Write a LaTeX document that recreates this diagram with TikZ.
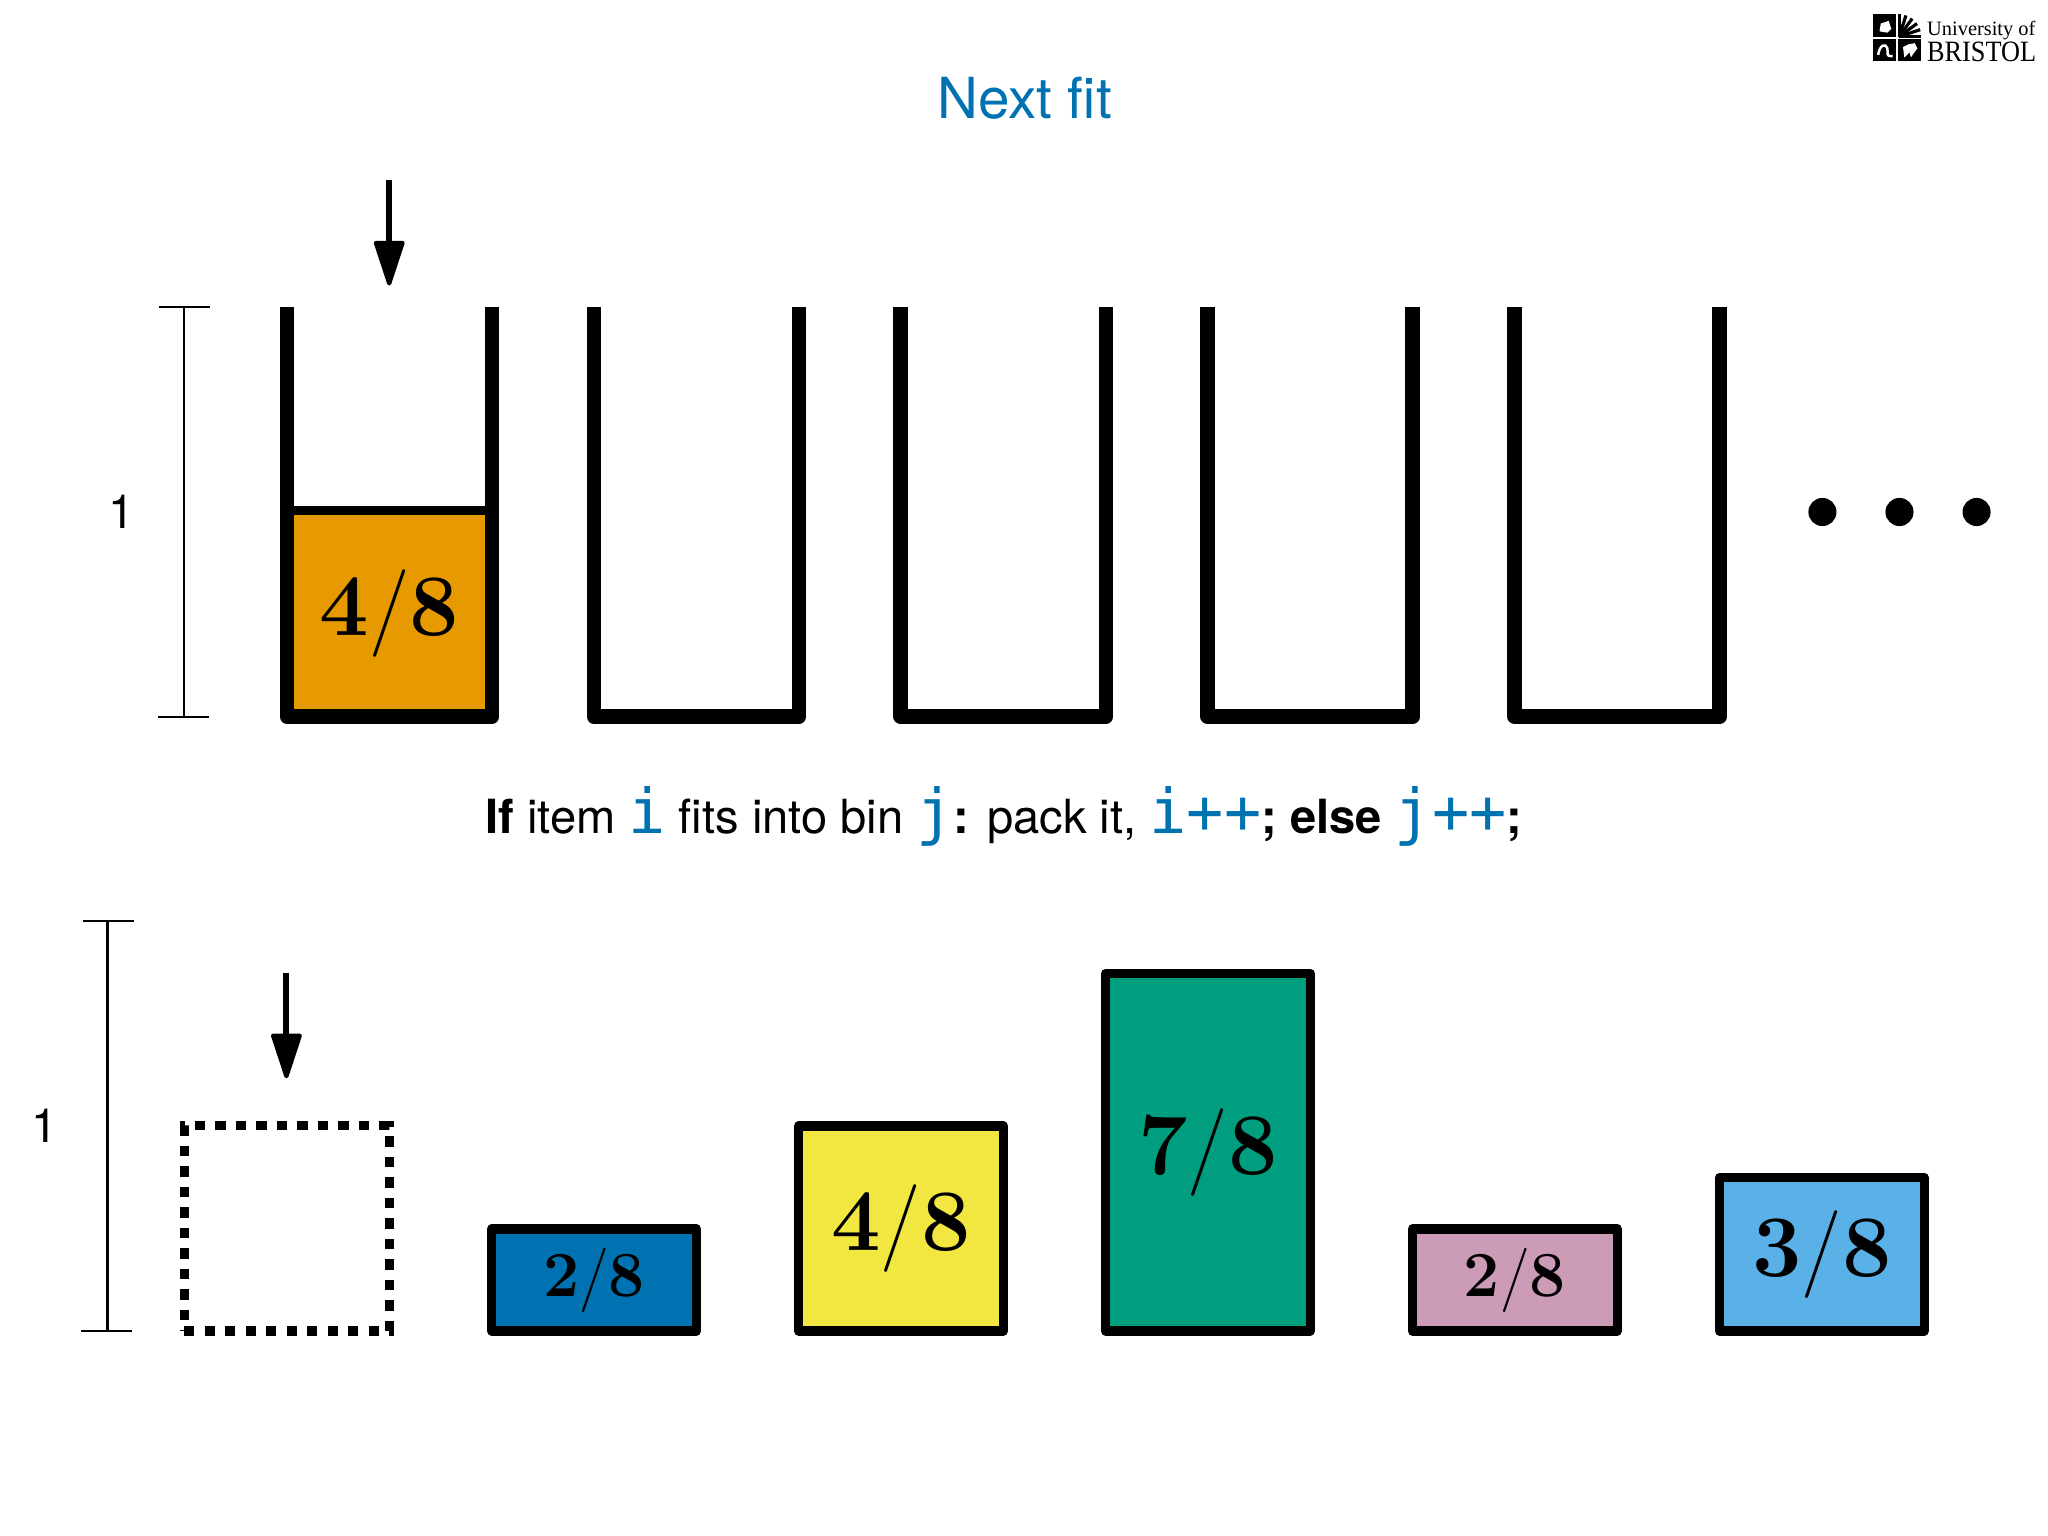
\documentclass[tikz,border=0pt]{standalone}
\usepackage{fontspec}
\newfontfamily\helv{TeX Gyre Heros}
\newfontfamily\tyi{DejaVu Sans Mono}
\newfontfamily\logofont{Liberation Serif}
\definecolor{nfblue}{HTML}{0072B2}
\definecolor{nforange}{HTML}{E69A00}
\definecolor{nfyellow}{HTML}{F2E640}
\definecolor{nfgreen}{HTML}{009D7E}
\definecolor{nfpink}{HTML}{CC9BB5}
\definecolor{nfsky}{HTML}{5AB1E8}
\newcommand{\fracbig}[1]{{\fontsize{25}{28}\selectfont\bfseries #1\textnormal{/}8}}
\newcommand{\fracsmall}[1]{{\fontsize{18.3}{20}\selectfont\bfseries #1\textnormal{/}8}}
\newcommand{\cv}[1]{{\tyi\fontsize{17.6}{20}\selectfont\textcolor{nfblue}{#1}}}
\tikzset{
  x=0.0130612cm, y=-0.0130612cm,
  binwall/.style={line width=4.2pt, line join=round},
  itembox/.style={draw=black, line width=2.6pt, line join=round, minimum width=58.3pt, inner sep=0pt, outer sep=0pt},
  ruler/.style={line width=0.65pt},
  pointer/.style={line width=1.7pt},
  pointerhead/.style={fill=black, draw=black, line width=1.2pt, line join=round},
  dotmark/.style={circle, fill=black, inner sep=0pt, minimum size=8pt},
  labelone/.style={font=\helv\fontsize{13.4}{16}\selectfont},
}
\newcommand{\binat}[1]{\draw[binwall] (#1,235) -- (#1,548.7) -- (#1+157,548.7) -- (#1+157,235);}
\newcommand{\arrowdown}[3]{%
  \coordinate (#1s) at (#2,#3);
  \coordinate (#1t) at (#2,#3+48);
  \draw[pointer] (#1s) -- (#1t);
  \fill[pointerhead] (#2-10.2,#3+48) -- (#2+10.2,#3+48) -- (#2,#3+79) -- cycle;}
\newcommand{\rulerat}[3]{%
  \coordinate (#1a) at (#2,#3);
  \coordinate (#1b) at (#2,#3+314);
  \draw[ruler] (#1a) -- (#1b);
  \draw[ruler] (#2-19,#3) -- (#2+20,#3);
  \draw[ruler] (#2-20,#3+314) -- (#2+19,#3+314);}
\begin{document}
\begin{tikzpicture}
\useasboundingbox (0,0) rectangle (1568,1176);
\node[font=\helv\fontsize{16.1}{18}\selectfont, text=nfblue] (title) at (784.5,75) {Next fit};
% bins
\node[itembox, fill=nforange, minimum height=58.3pt, anchor=south west] (i0) at (219.7,548) {\fracbig{4}};
\binat{219.7}\binat{454.7}\binat{689.7}\binat{924.7}\binat{1159.7}
\arrowdown{a}{298}{138}
\rulerat{ra}{141}{235}
\node[labelone] (one1) at (93,392) {1};
\node[dotmark] (d1) at (1395.3,392) {};
\node[dotmark] (d2) at (1454.3,392) {};
\node[dotmark] (d3) at (1513.3,392) {};
% rule text
\node[font=\helv\fontsize{13.4}{16}\selectfont, anchor=base] (rule) at (768.5,638) {\textbf{If} item \cv{i} fits into bin \cv{j}\textbf{:} pack it, \cv{i++}\textbf{; else} \cv{j++}\textbf{;}};
% items
\rulerat{rb}{82.3}{705}
\node[labelone] (one2) at (34,862) {1};
\arrowdown{b}{219.3}{745}
\draw[line width=2.6pt, dash pattern=on 2.93pt off 2.9pt] (141,1019) -- (298,1019) -- (298,862) -- (141,862) -- cycle;
\node[itembox, fill=nfblue, minimum height=29pt, anchor=south west] (i1) at (376.4,1019) {\fracsmall{2}};
\node[itembox, fill=nfyellow, minimum height=58.3pt, anchor=south west] (i2) at (611.4,1019) {\fracbig{4}};
\node[itembox, fill=nfgreen, minimum height=101.7pt, anchor=south west] (i3) at (846.4,1019) {\fracbig{7}};
\node[itembox, fill=nfpink, minimum height=29pt, anchor=south west] (i4) at (1081.4,1019) {\fracsmall{2}};
\node[itembox, fill=nfsky, minimum height=43.6pt, anchor=south west] (i5) at (1316.4,1019) {\fracbig{3}};
% logo
\fill[black] (1434,11) rectangle (1452,28.5);
\fill[black] (1434,30) rectangle (1452,47);
\fill[black] (1453.5,30) rectangle (1471,47);
\foreach \ang in {0,18,36,54,72,90}{\draw[line width=0.9pt] (1454,28) -- ++({17*cos(\ang)},{-17*sin(\ang)});}
\fill[white] (1440,18) -- (1446,16) -- (1448,22) -- (1445,25) -- (1439,24) -- cycle;
\draw[white, line width=0.7pt] (1438,42) .. controls (1439,34) and (1444,33) .. (1445,37) .. controls (1446,41) and (1443,43) .. (1449,43);
\fill[white] (1457,36) -- (1461,34) -- (1466,33) -- (1468,37) -- (1465,41) -- (1463,44) -- (1462,40) -- (1458,44) -- cycle;
\node[font=\logofont\fontsize{5.8}{6}\selectfont, anchor=west, inner sep=0pt] (logoa) at (1475,23) {University of};
\node[font=\logofont\fontsize{8.4}{9}\selectfont, anchor=west, inner sep=0pt, xscale=0.89] (logob) at (1475,40) {BRISTOL};
\end{tikzpicture}
\end{document}
